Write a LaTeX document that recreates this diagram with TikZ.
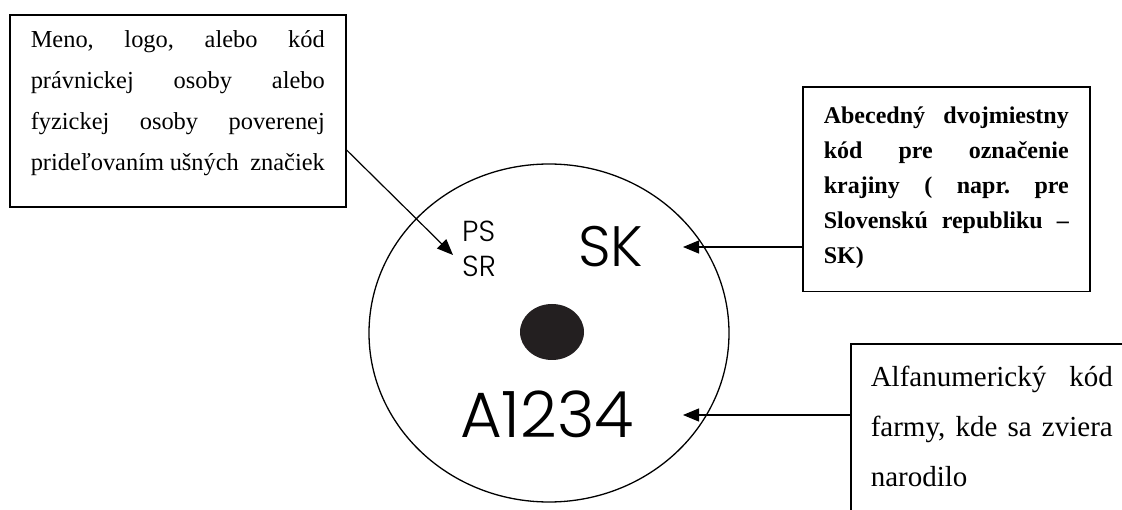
\documentclass[tikz,border=0pt]{standalone}
\usepackage{fontspec}
\setmainfont{Liberation Serif}
\newfontfamily\tagfont{Poppins Light}
\usetikzlibrary{arrows.meta}

\definecolor{tagdot}{RGB}{35,31,32}
\newcommand{\boxgap}[1]{\par\vspace{#1}\nointerlineskip\hbox{}}

\tikzset{
  infobox/.style={draw, line width=1.6pt, anchor=north west, inner xsep=21pt, align=justify},
  pointer/.style={line width=1.2pt, -{Triangle[length=16pt,width=13pt]}},
  tagtext/.style={inner sep=0pt, anchor=base west}
}

\begin{document}
\frenchspacing
\begin{tikzpicture}[x=1pt,y=-1pt]
  \useasboundingbox (0,0) rectangle (1122,510);
  \clip (0,0) rectangle (1122,510);
  % ear tag
  \draw[line width=1.3pt] (549,333) ellipse [x radius=180, y radius=169];
  \fill[tagdot] (552,332) ellipse [x radius=32, y radius=28];
  \node[tagtext, font=\tagfont\fontsize{29}{29}\selectfont] (ps) at (462,242) {PS};
  \node[tagtext, font=\tagfont\fontsize{29}{29}\selectfont] (sr) at (462,277) {SR};
  \node[tagtext, font=\tagfont\fontsize{57}{57}\selectfont] (sk) at (578,267) {SK};
  \node[tagtext, font=\tagfont\fontsize{64}{64}\selectfont] (code) at (460,438) {A1234};
  % explanation boxes
  \node[infobox, text width=294pt, inner ysep=16pt, font=\fontsize{24.4}{41}\selectfont] (lbox) at (9,14)
    {Meno, logo, alebo kód\linebreak právnickej osoby alebo\linebreak fyzickej osoby poverenej\linebreak prideľovaním ušných\ \ značiek\boxgap{15pt}};
  \node[infobox, text width=245pt, inner ysep=20pt, font=\bfseries\fontsize{24}{35}\selectfont] (rbox) at (802,86)
    {Abecedný dvojmiestny\linebreak kód pre označenie\linebreak krajiny ( napr. pre\linebreak Slovenskú republiku –\linebreak SK)\boxgap{3pt}};
  \node[infobox, text width=242pt, inner xsep=20pt, inner ysep=22pt, font=\fontsize{29}{50}\selectfont] (bbox) at (850,343)
    {Alfanumerický kód\linebreak farmy, kde sa zviera\linebreak narodilo\boxgap{60pt}};
  % pointers
  \coordinate (psTip) at (453,255);
  \coordinate (skTip) at (683,247);
  \coordinate (codeTip) at (683,415);
  \draw[pointer] ([yshift=-136pt]lbox.north east) -- (psTip);
  \draw[pointer] (skTip -| rbox.west) -- (skTip);
  \draw[pointer] (codeTip -| bbox.west) -- (codeTip);
\end{tikzpicture}
\end{document}
